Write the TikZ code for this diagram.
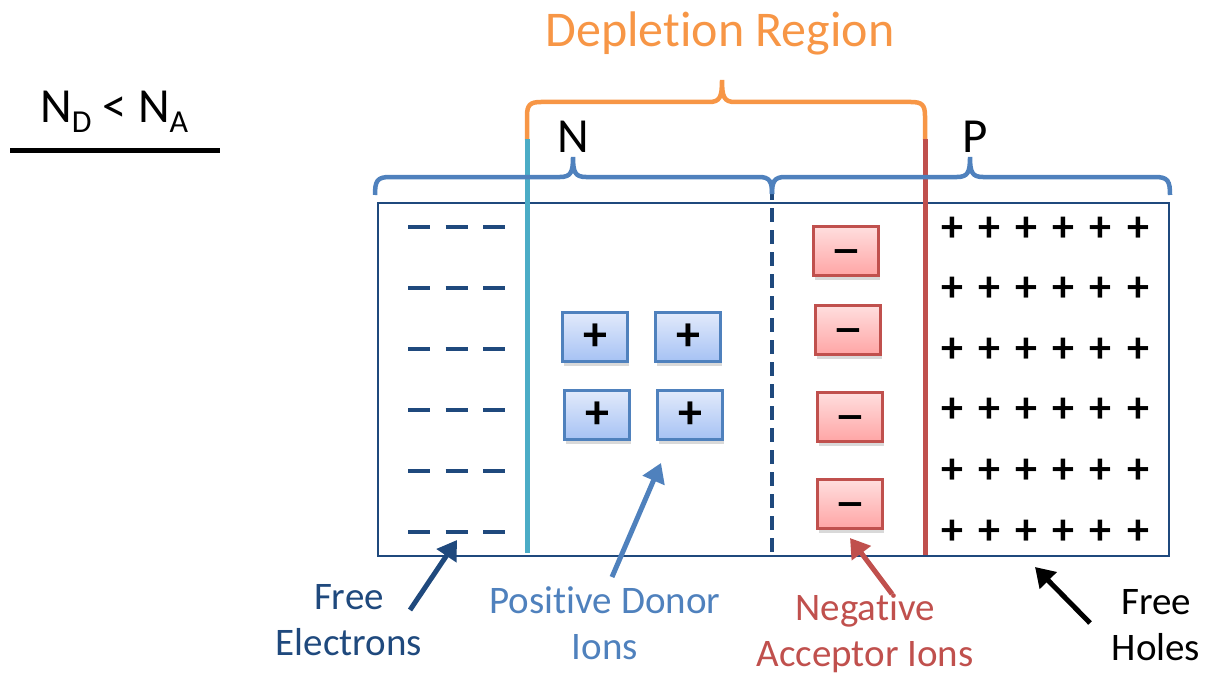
\documentclass[tikz,border=0pt]{standalone}
\usepackage{fontspec}
\setmainfont{Carlito}[Ligatures=NoCommon]
\usetikzlibrary{
  arrows.meta,
  shadows
}
\definecolor{navy}{HTML}{1F497D}
\definecolor{steel}{HTML}{4F81BD}
\definecolor{aqua}{HTML}{4BACC6}
\definecolor{brick}{HTML}{C0504D}
\definecolor{amber}{HTML}{F79646}
\definecolor{dontop}{HTML}{E2EAFB}
\definecolor{donbot}{HTML}{A6C2F4}
\definecolor{acctop}{HTML}{FFDEDE}
\definecolor{accbot}{HTML}{FFA5A5}
% minus glyph centred on the node
\newcommand{\minussign}{\raisebox{-19pt}[0pt][0pt]{\fontsize{60}{60}\selectfont −}}

\begin{document}
\begin{tikzpicture}[x=1pt, y=-1pt,
    every node/.style = {inner sep=0pt},
    big/.style = {font=\fontsize{49}{56}\selectfont},
    lbl/.style = {font=\fontsize{39}{46}\selectfont, align=center},
    ion/.style = {draw, line width=2.5pt, minimum width=65pt, minimum height=49pt,
      font=\fontsize{48}{48}\selectfont\bfseries,
      drop shadow={opacity=0.3, shadow xshift=1pt, shadow yshift=-4pt}},
    donor/.style = {ion, draw=steel, top color=dontop, bottom color=donbot},
    acceptor/.style = {ion, draw=brick, top color=acctop, bottom color=accbot,
      font=\mdseries},
    brace/.style = {line width=4.5pt},
    pointer/.style = {line width=5pt, -{Triangle[length=19pt, width=23pt]}}]
  \useasboundingbox (0,0) rectangle (1206,674);

  % ratio and title
  \node[big, anchor=base west] (ratio) at (40,122)
    {N\raisebox{-0.22em}{\fontsize{32}{32}\selectfont D} < N\raisebox{-0.22em}{\fontsize{32}{32}\selectfont A}};
  \draw[line width=5pt] (10,150) -- (220,150);
  \node[big, font=\fontsize{50}{56}\selectfont, text=amber] (depl) at (720,33) {Depletion Region};

  % junction body
  \draw[navy, line width=2pt] (378,203) rectangle (1169,556);

  % depletion brace and its edges
  \draw[brace, amber] (527,140) -- (527,116) .. controls (527,105) and (530,102) .. (541,102)
    -- (709,102) .. controls (720,102) and (722,97) .. (722,80)
    .. controls (722,97) and (724,102) .. (735,102)
    -- (911,102) .. controls (922,102) and (925,105) .. (925,116) -- (925,140);
  \draw[aqua, line width=5pt] (527,139) -- (527,553);
  \draw[brick, line width=5pt] (925,139) -- (925,555);
  \draw[navy, line width=4pt, dash pattern=on 14pt off 8pt] (772,186) -- (772,553);

  % N and P braces
  \draw[brace, steel] (375,195) .. controls (375,181) and (377,177) .. (390,177)
    -- (560,177) .. controls (571,177) and (573,172) .. (573,157)
    .. controls (573,172) and (575,177) .. (586,177)
    -- (759,177) .. controls (770,177) and (772,182) .. (772,194);
  \draw[brace, steel] (772,194) .. controls (772,182) and (774,177) .. (785,177)
    -- (957,177) .. controls (968,177) and (970,172) .. (970,157)
    .. controls (970,172) and (972,177) .. (983,177)
    -- (1155,177) .. controls (1168,177) and (1170,181) .. (1170,195);
  \node[big] (nside) at (573,137) {N};
  \node[big] (pside) at (975,137) {P};

  % free electrons and holes
  \foreach \r in {0,...,5}
    \foreach \c in {0,1,2}
      \draw[navy, line width=3.5pt] ({408+37.5*\c},{227+61*\r}) -- ++(22,0);
  \foreach \r in {0,...,5}
    \foreach \c in {0,...,5}
      \node[font=\fontsize{44}{44}\selectfont\bfseries] (h-\r-\c) at ({952+37.2*\c},{229+60.6*\r}) {+};

  % fixed ions
  \node[donor] (don1) at (595,337) {+};
  \node[donor] (don2) at (688,337) {+};
  \node[donor] (don3) at (597,415) {+};
  \node[donor] (don4) at (690,415) {+};
  \node[acceptor] (acc1) at (846,251) {\minussign};
  \node[acceptor] (acc2) at (848,330) {\minussign};
  \node[acceptor] (acc3) at (850,417) {\minussign};
  \node[acceptor] (acc4) at (850,504) {\minussign};

  % labels and pointers
  \node[lbl, text=navy] (elLbl) at (349,620) {Free\\Electrons};
  \node[lbl, text=steel] (donLbl) at (605,623) {Positive Donor\\Ions};
  \node[lbl, text=brick] (accLbl) at (865,633) {Negative\\Acceptor Ions};
  \node[lbl] (hoLbl) at (1156,625) {Free\\Holes};
  \coordinate (elTail) at (410,610);   \coordinate (elHead) at (457,540);
  \coordinate (donTail) at (612,577);  \coordinate (donHead) at (661,463);
  \coordinate (accTail) at (892,594);  \coordinate (accHead) at (850,538);
  \coordinate (hoTail) at (1090,623);  \coordinate (hoHead) at (1035,567);
  \draw[pointer, navy] (elTail) -- (elHead);
  \draw[pointer, steel] (donTail) -- (donHead);
  \draw[pointer, brick] (accTail) -- (accHead);
  \draw[pointer, black] (hoTail) -- (hoHead);
\end{tikzpicture}
\end{document}
